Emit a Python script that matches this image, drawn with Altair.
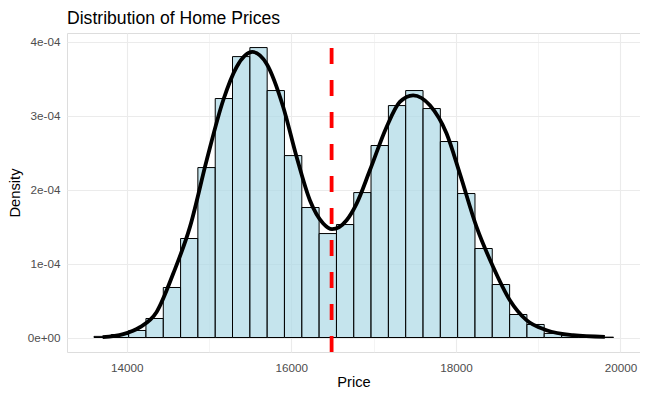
import altair as alt
import pandas as pd

# Histogram bins (price) and densities
bin_start = [13603, 13813, 14024, 14234, 14445, 14655, 14865, 15076, 15286, 15497,
             15707, 15917, 16128, 16338, 16549, 16759, 16969, 17180, 17390, 17601,
             17811, 18021, 18232, 18442, 18653, 18863, 19073, 19284, 19494, 19705]
bin_end = [13813, 14024, 14234, 14445, 14655, 14865, 15076, 15286, 15497, 15707,
           15917, 16128, 16338, 16549, 16759, 16969, 17180, 17390, 17601, 17811,
           18021, 18232, 18442, 18653, 18863, 19073, 19284, 19494, 19705, 19915]
bin_density = [0.015e-4, 0.04e-4, 0.095e-4, 0.257e-4, 0.676e-4, 1.338e-4, 2.297e-4, 3.23e-4,
               3.797e-4, 3.919e-4, 3.338e-4, 2.459e-4, 1.757e-4, 1.405e-4, 1.527e-4,
               1.959e-4, 2.595e-4, 3.135e-4, 3.338e-4, 3.095e-4, 2.649e-4, 1.946e-4,
               1.203e-4, 0.716e-4, 0.311e-4, 0.176e-4, 0.055e-4, 0.025e-4, 0.01e-4, 0.005e-4]

# Kernel density curve
curve_price = [13708, 13959, 14162, 14364, 14566, 14769, 14972, 15173, 15336, 15526,
               15700, 15902, 16065, 16226, 16388, 16496, 16672, 16794, 16955, 17158,
               17319, 17481, 17684, 17887, 18048, 18251, 18453, 18656, 18858, 19101,
               19424, 19810]
curve_density = [0.004e-4, 0.045e-4, 0.14e-4, 0.346e-4, 0.865e-4, 1.495e-4, 2.396e-4, 3.207e-4,
                 3.657e-4, 3.86e-4, 3.70e-4, 3.116e-4, 2.44e-4, 1.855e-4, 1.541e-4, 1.464e-4,
                 1.585e-4, 1.81e-4, 2.26e-4, 2.846e-4, 3.184e-4, 3.274e-4, 3.139e-4, 2.757e-4,
                 2.216e-4, 1.495e-4, 0.954e-4, 0.504e-4, 0.234e-4, 0.099e-4, 0.031e-4, 0.008e-4]

mean_price = [16490]

x_ticks = [14000, 15000, 16000, 17000, 18000, 19000, 20000]
y_ticks = [0, 0.5e-4, 1e-4, 1.5e-4, 2e-4, 2.5e-4, 3e-4, 3.5e-4, 4e-4]

hist_df = pd.DataFrame({"start": bin_start, "end": bin_end, "density": bin_density})
curve_df = pd.DataFrame({"price": curve_price, "density": curve_density})
vline_df = pd.DataFrame({"price": mean_price})

FONT = "Liberation Sans"
xscale = alt.Scale(domain=[13275, 20237], nice=False, zero=False)
yscale = alt.Scale(domain=[-0.196e-4, 4.116e-4], nice=False, zero=False)

x_axis = alt.Axis(
    values=x_ticks, title="Price", format="d",
    labelExpr="datum.value % 2000 === 0 ? datum.label : ''",
    grid=True, gridColor="#EBEBEB",
    gridWidth={"condition": {"test": "datum.value % 2000 === 0", "value": 1.1}, "value": 0.55},
    ticks=False, tickSize=0, domain=False,
    labelColor="#4D4D4D", labelFontSize=11.7, labelFont=FONT, labelPadding=10,
    titleFont=FONT, titleFontSize=14.7, titleFontWeight="normal", titleColor="black",
    titlePadding=1,
)
y_axis = alt.Axis(
    values=y_ticks, title="Density",
    labelExpr="abs(round(datum.value*1e4) - datum.value*1e4) < 1e-6 ? (datum.value === 0 ? '0e+00' : format(round(datum.value*1e4), 'd') + 'e-04') : ''",
    grid=True, gridColor="#EBEBEB",
    gridWidth={"condition": {"test": "abs(round(datum.value*1e4) - datum.value*1e4) < 1e-6", "value": 1.1}, "value": 0.55},
    ticks=False, tickSize=0, domain=False,
    labelColor="#4D4D4D", labelFontSize=11.7, labelFont=FONT, labelPadding=7,
    titleFont=FONT, titleFontSize=14.7, titleFontWeight="normal", titleColor="black",
    titlePadding=5,
)

bars = alt.Chart(hist_df).mark_rect(
    fill="#ADD8E6", fillOpacity=0.7, stroke="black", strokeWidth=1
).encode(
    x=alt.X("start:Q", scale=xscale, axis=x_axis),
    x2="end:Q",
    y=alt.Y("density:Q", scale=yscale, axis=y_axis),
    y2=alt.datum(0),
)

curve = alt.Chart(curve_df).mark_line(
    color="black", strokeWidth=3.8, interpolate="monotone"
).encode(
    x=alt.X("price:Q", scale=xscale),
    y=alt.Y("density:Q", scale=yscale),
)

vline = alt.Chart(vline_df).mark_rule(
    color="red", strokeWidth=3.8, strokeDash=[16, 16]
).encode(
    x=alt.X("price:Q", scale=xscale),
    y=alt.value(319),
    y2=alt.value(0),
)

chart = alt.layer(bars, curve, vline).properties(
    width=573, height=319,
    title=alt.TitleParams(
        "Distribution of Home Prices", anchor="start", frame="group",
        font=FONT, fontSize=17.6, fontWeight="normal", color="black", offset=4,
    ),
    autosize=alt.AutoSizeParams(type="none"),
    padding={"left": 59, "top": 25, "right": 0, "bottom": 38},
).configure_view(stroke=None).configure(background="white")

chart.save("out.html", embed_options={"renderer": "svg", "actions": False})
